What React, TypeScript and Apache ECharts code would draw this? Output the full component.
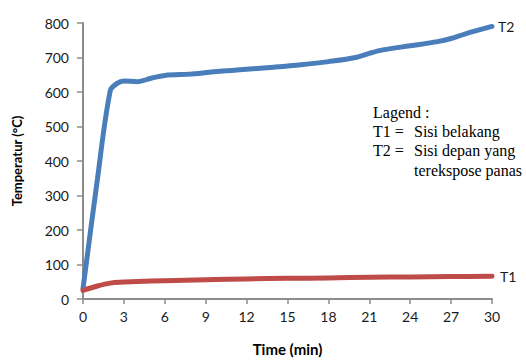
import React, { useEffect, useRef } from "react";
import * as echarts from "echarts";

const t1Minutes = [0, 1, 2, 3, 4, 6, 9, 12, 15, 18, 21, 24, 27, 30];
const t1Values = [25, 37, 46, 49, 51, 53, 56, 58, 60, 61, 63, 64, 65, 66];

const t2Minutes = [0, 1, 2, 2.5, 3, 4, 5, 6, 8, 10, 12, 14, 16, 18, 20, 21, 22, 24, 26, 27, 28, 30];
const t2Values = [30, 330, 604, 625, 632, 630, 640, 648, 652, 660, 666, 672, 679, 688, 700, 712, 722, 734, 746, 755, 768, 790];

const legendLines = [
  { key: "Lagend :", text: "" },
  { key: "T1 =", text: "Sisi belakang" },
  { key: "T2 =", text: "Sisi depan yang" },
  { key: "", text: "terekspose panas" },
];

export default function App() {
  const ref = useRef<HTMLDivElement>(null);
  useEffect(() => {
    if (!ref.current) return;
    const chart = echarts.init(ref.current, undefined, { renderer: "svg" });
    const axisColor = "#8c8c8c";
    const labelFont = "Lato, 'Open Sans', sans-serif";
    const legendFont = "'Liberation Serif', 'DejaVu Serif', serif";
    const graphics: any[] = [];
    const tops = [104, 123, 142, 162];
    legendLines.forEach((l, i) => {
      const y = tops[i];
      if (l.key) {
        graphics.push({
          type: "text",
          left: 373,
          top: y,
          style: { text: l.key, font: `16px ${legendFont}`, fill: "#000" },
        });
      }
      if (l.text) {
        graphics.push({
          type: "text",
          left: 414,
          top: y,
          style: { text: l.text, font: `16px ${legendFont}`, fill: "#000" },
        });
      }
    });
    chart.setOption({
      animation: false,
      grid: { left: 83, right: 34, top: 23, bottom: 61, containLabel: false },
      xAxis: {
        type: "value",
        min: 0,
        max: 30,
        interval: 3,
        name: "Time (min)",
        nameLocation: "middle",
        nameGap: 42,
        nameTextStyle: { fontFamily: labelFont, fontWeight: "bold", fontSize: 15, color: "#000" },
        axisLine: { show: true, lineStyle: { color: axisColor, width: 2 } },
        axisTick: { show: true, length: 5, lineStyle: { color: axisColor, width: 1.5 } },
        axisLabel: { fontFamily: labelFont, fontSize: 14, color: "#1a1a1a", margin: 10 },
        splitLine: { show: false },
      },
      yAxis: {
        type: "value",
        min: 0,
        max: 800,
        interval: 100,
        name: "Temperatur (°C)",
        nameLocation: "middle",
        nameGap: 60,
        nameRotate: 90,
        nameTextStyle: { fontFamily: labelFont, fontWeight: "bold", fontSize: 13, color: "#000" },
        axisLine: { show: true, lineStyle: { color: axisColor, width: 2 } },
        axisTick: { show: true, length: 6, lineStyle: { color: axisColor, width: 1.5 } },
        axisLabel: { fontFamily: labelFont, fontSize: 14, color: "#1a1a1a", margin: 14 },
        splitLine: { show: false },
      },
      series: [
        {
          name: "T2",
          type: "line",
          smooth: 0.35,
          showSymbol: false,
          symbol: "none",
          data: t2Minutes.map((m, i) => [m, t2Values[i]]),
          lineStyle: { color: "#4a7ebb", width: 5, cap: "round", join: "round" },
          itemStyle: { color: "#4a7ebb" },
          endLabel: {
            show: true,
            formatter: "{a}",
            fontFamily: labelFont,
            fontSize: 14,
            color: "#1a1a1a",
            distance: 6,
          },
        },
        {
          name: "T1",
          type: "line",
          smooth: 0.35,
          showSymbol: false,
          symbol: "none",
          data: t1Minutes.map((m, i) => [m, t1Values[i]]),
          lineStyle: { color: "#be4b48", width: 5, cap: "round", join: "round" },
          itemStyle: { color: "#be4b48" },
          endLabel: {
            show: true,
            formatter: "{a}",
            fontFamily: labelFont,
            fontSize: 14,
            color: "#1a1a1a",
            distance: 8,
          },
        },
      ],
      graphic: graphics,
    });
    return () => chart.dispose();
  }, []);
  return (
    <div
      ref={ref}
      style={{ position: "fixed", left: 0, top: 0, width: 526, height: 361, background: "#fff" }}
    />
  );
}
